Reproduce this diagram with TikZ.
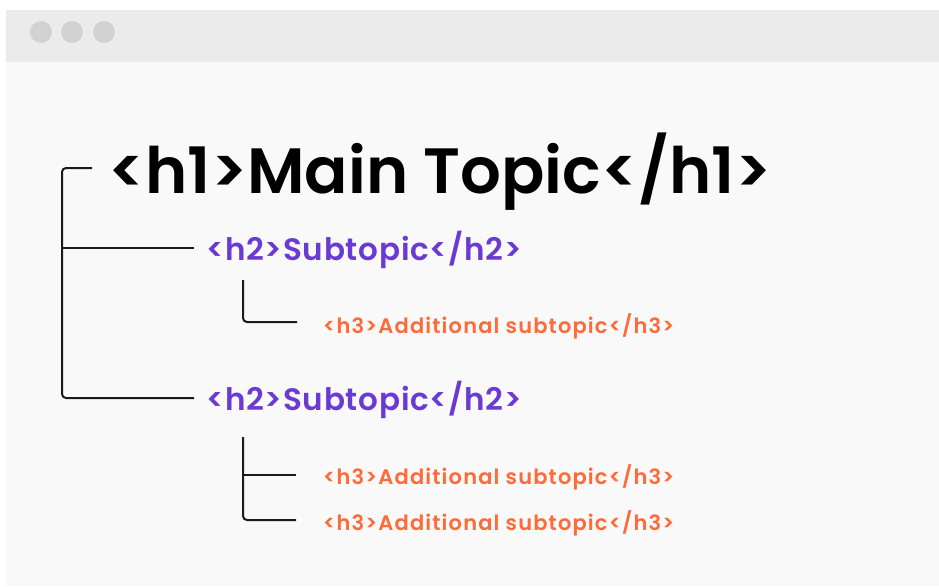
\documentclass[tikz,border=0pt]{standalone}
\usepackage{fontspec}
\setmainfont{Poppins}[BoldFont={Poppins SemiBold}]
\newfontfamily\htwofont{Poppins SemiBold}[LetterSpace=2.5]
\newfontfamily\hthreefont{Poppins SemiBold}[LetterSpace=5.5]
\definecolor{barcol}{HTML}{EBEBEB}
\definecolor{bodycol}{HTML}{F9F9F9}
\definecolor{dotcol}{HTML}{D2D2D2}
\definecolor{hpurple}{HTML}{6B3AD2}
\definecolor{horange}{HTML}{FF6A38}
\definecolor{linecol}{HTML}{1A1A1A}
\begin{document}
\begin{tikzpicture}[x=1pt,y=-1pt,
  tree/.style={draw=linecol,line width=2pt,rounded corners=4pt},
  hone/.style={anchor=base west,inner sep=0pt,text=black,font=\fontsize{64}{70}\selectfont\bfseries},
  htwo/.style={anchor=base west,inner sep=0pt,text=hpurple,font=\htwofont\fontsize{31}{34}\selectfont},
  hthree/.style={anchor=base west,inner sep=0pt,text=horange,font=\hthreefont\fontsize{21}{24}\selectfont},
  dot/.style={circle,fill=dotcol,minimum size=22pt,inner sep=0pt}]
\useasboundingbox (0,0) rectangle (939,586);
\fill[white] (0,0) rectangle (939,586);
\fill[bodycol] (6,10) rectangle (939,586);
\fill[barcol] (6,10) rectangle (939,62);
\node[dot] (d1) at (41,32) {};
\node[dot] (d2) at (72,32) {};
\node[dot] (d3) at (104,32) {};
\node[hone] (h1) at (108,193) {<h1>Main Topic</h1>};
\node[htwo] (h2a) at (206,260) {<h2>Subtopic</h2>};
\node[htwo] (h2b) at (206,410) {<h2>Subtopic</h2>};
\node[hthree] (h3a) at (323,333) {<h3>Additional subtopic</h3>};
\node[hthree] (h3b) at (323,484) {<h3>Additional subtopic</h3>};
\node[hthree] (h3c) at (323,530) {<h3>Additional subtopic</h3>};
\coordinate (m0) at (92,168);
\coordinate (ma) at (194,248);
\coordinate (mb) at (194,398);
\coordinate (s1top) at (243,280);
\coordinate (s1a) at (297,322);
\coordinate (s2top) at (243,437);
\coordinate (s2a) at (296,475);
\coordinate (s2b) at (296,520);
\draw[tree] (m0) -- (62,168) -- (62,398) -- (mb);
\draw[tree] (62,248) -- (ma);
\draw[tree] (s1top) |- (s1a);
\draw[tree] (s2top) |- (s2b);
\draw[tree] (243,475) -- (s2a);
\end{tikzpicture}
\end{document}
